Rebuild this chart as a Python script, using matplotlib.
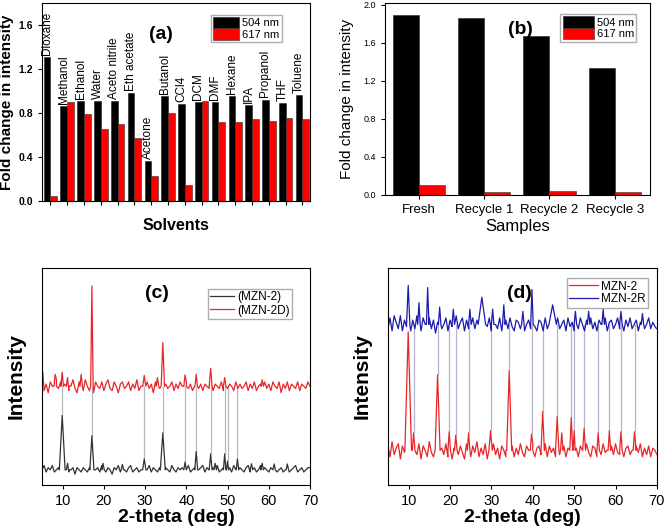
import numpy as np
import matplotlib
matplotlib.use('Agg')
import matplotlib.pyplot as plt

plt.rcParams['font.family'] = ['Liberation Sans', 'DejaVu Sans']

# ---- panel (a): solvents ----
solvents = ['Dioxane', 'Methanol', 'Ethanol', 'Water', 'Aceto nitrile', 'Eth acetate',
            'Acetone', 'Butanol', 'CCl4', 'DCM', 'DMF', 'Hexane', 'IPA', 'Propanol',
            'THF', 'Toluene']
solv_504 = [1.31, 0.86, 0.91, 0.91, 0.91, 0.98, 0.36, 0.95, 0.88, 0.90, 0.90, 0.95,
            0.87, 0.92, 0.89, 0.96]
solv_617 = [0.04, 0.90, 0.79, 0.65, 0.70, 0.57, 0.22, 0.80, 0.14, 0.91, 0.72, 0.72,
            0.74, 0.73, 0.75, 0.74]

# ---- panel (b): recycling ----
samples = ['Fresh', 'Recycle 1', 'Recycle 2', 'Recycle 3']
samp_504 = [1.89, 1.86, 1.67, 1.34]
samp_617 = [0.11, 0.03, 0.045, 0.03]

# ---- panels (c), (d): XRD traces (arb. units) ----
# baseline readings every 0.5 deg from 5 to 70
c_black_noise = [
    0, 2, -1, 1, 0, 2, -1, 0, 1, -1,
    1, 0, 2, -1, 0, 1, -2, 1, 0, -1,
    1, 0, -1, 1, 2, -1, 0, 1, -1, 2,
    0, -1, 1, 0, -2, 1, 0, 2, -1, 1,
    0, -1, 1, 2, -1, 0, 1, -1, 0, 1,
    -1, 0, 2, -1, 1, 0, -1, 1, 0, -2,
    1, 0, -1, 2, 0, -1, 1, 0, 1, -1,
    0, 2, -1, 0, 1, -1, 0, 1, 2, -1,
    1, 0, -1, 1, 0, 2, -1, 0, 1, -1,
    0, 1, -1, 2, 0, -1, 1, 0, -1, 1,
    2, -1, 0, 1, -1, 0, 2, -1, 1, 0,
    -1, 1, 0, 2, -1, 0, 1, -1, 0, 1,
    -1, 0, 1, 2, -1, 0, 1, -1, 0, 1,
    1]
c_red_noise = [
    3, -2, 1, -3, 2, 0, -2, 3, -1, 2,
    -3, 1, 2, -2, 0, 3, -1, -3, 2, 1,
    -2, 3, 0, -2, 1, -3, 2, 0, -1, 2,
    -2, 1, 3, -1, -2, 2, 0, -3, 1, 2,
    -1, 0, 2, -2, 1, -1, 3, -2, 0, 1,
    -2, 2, -1, 1, -3, 2, 0, -1, 2, -2,
    1, -1, 0, 2, -2, 1, -1, 2, 0, -2,
    2, -1, 1, -2, 0, 2, -1, 1, -2, 1,
    0, -1, 2, -2, 1, 0, -1, 2, -2, 1,
    -1, 1, 0, -2, 2, -1, 1, -1, 0, 2,
    -2, 1, -1, 2, -2, 0, 1, -2, 2, -1,
    1, -2, 2, 0, -1, 2, -3, 1, -1, 2,
    -2, 1, 0, -1, 2, -2, 1, 0, -1, 2,
    0]
d_red_noise = [
    2, -3, 4, -2, 1, 3, -4, 2, -1, 3,
    -2, 4, -3, 1, -2, 3, -4, 2, 0, -3,
    4, -1, -3, 2, -4, 3, 1, -2, 3, -3,
    2, -4, 1, 3, -2, 2, -1, -4, 3, 1,
    -3, 2, -1, 4, -3, 1, -2, 3, -4, 2,
    -1, 3, -2, 1, -4, 2, 0, -3, 3, -1,
    2, -3, 1, -2, 3, -1, -3, 2, 0, -2,
    3, -3, 1, 2, -2, -1, 3, -3, 2, -1,
    1, -3, 3, -2, 0, 2, -3, 1, -1, 3,
    -2, 1, -3, 2, 0, -2, 3, -1, -3, 2,
    1, -3, 2, -2, 3, -1, 0, -3, 2, -2,
    3, -1, -2, 2, -3, 1, 2, -2, 0, -3,
    2, -1, 3, -3, 1, -2, 2, -3, 1, 0,
    -2]
d_blue_noise = [
    -2, 3, -3, 4, 1, -2, 4, -3, 2, -1,
    3, -3, 2, -2, 4, -1, -3, 3, 0, -3,
    3, -2, 2, -4, 1, 3, -2, 0, 3, -3,
    2, -1, -3, 4, -2, 1, 3, -3, 2, -2,
    0, 3, -2, 2, -3, 1, 4, -2, -1, 3,
    -3, 2, 0, -2, 3, -3, 1, 2, -2, 3,
    -1, -3, 2, 1, -2, 3, -3, 0, 2, -2,
    3, -1, -3, 2, 1, -3, 3, -2, 2, -1,
    -3, 2, 3, -2, 0, 2, -3, 3, -1, 1,
    -3, 2, -2, 3, 0, -3, 2, -1, 3, -2,
    1, -3, 2, 0, -2, 3, -3, 1, 2, -2,
    0, 3, -2, 1, -3, 2, -1, 3, -2, 0,
    2, -3, 1, 2, -2, 0, 3, -2, 1, -1,
    -2]

c_black_base = 7
c_red_base = 45.5
d_red_base = 16
d_blue_base = 74

# peaks: (2-theta, top value, half width)
c_black_peaks = [(9.9, 32, 0.7), (11.2, 10, 0.3), (17.1, 22.7, 0.5), (19.8, 10, 0.3),
                 (24.5, 9.5, 0.3), (29.8, 12, 0.4), (34.3, 24, 0.6), (39.7, 10.6, 0.3),
                 (42.4, 15.4, 0.35), (45.9, 14.3, 0.35), (47.0, 10, 0.3), (49.3, 14.3, 0.3),
                 (50.0, 11, 0.25), (52.4, 12, 0.3), (55.8, 9.8, 0.3), (58.4, 10, 0.3),
                 (61.3, 9.7, 0.3), (64.5, 9.7, 0.3)]
c_red_peaks = [(5.2, 52, 0.25), (8.2, 51, 0.3), (9.9, 52, 0.3), (11.2, 49.5, 0.3),
               (14.5, 51, 0.3), (17.1, 91.7, 0.3), (29.8, 50.5, 0.35), (33.0, 49.5, 0.3),
               (34.3, 65.6, 0.4), (39.7, 50.7, 0.3), (42.4, 51, 0.3), (45.9, 53.8, 0.35),
               (49.3, 49.5, 0.3), (58.4, 48.5, 0.3)]
d_red_peaks = [(9.9, 70.6, 0.8), (11.2, 24, 0.3), (17.0, 50.7, 0.6), (19.8, 24.5, 0.3),
               (21.4, 23, 0.3), (24.5, 24, 0.3), (29.8, 25, 0.4), (33.8, 21, 0.3),
               (34.3, 52.7, 0.6), (39.7, 23.5, 0.3), (42.4, 33.8, 0.4), (45.9, 31.5, 0.4),
               (47.0, 24, 0.3), (49.3, 31, 0.35), (50.0, 25, 0.25), (52.4, 26, 0.35),
               (55.8, 24, 0.3), (58.5, 25, 0.3), (61.3, 24.5, 0.3), (64.6, 24.5, 0.35)]
d_blue_peaks = [(9.9, 92, 0.4), (12.5, 84, 0.3), (14.6, 91, 0.3), (17.5, 82, 0.3),
                (20.8, 81, 0.3), (24.8, 81, 0.3), (27.7, 86.5, 0.9), (30.3, 81, 0.3),
                (33.0, 83, 0.3), (37.6, 80, 0.3), (39.8, 90, 0.3), (44.8, 83, 0.9),
                (50.3, 80, 0.3), (53.5, 80, 0.3), (57.0, 81, 0.3), (61.3, 80, 0.3),
                (66.5, 79, 0.3)]

c_links = [9.9, 17.1, 29.8, 34.3, 39.7, 42.4, 45.9, 49.3, 50.0, 52.4]
d_links = [11.2, 17.0, 19.8, 21.4, 24.5, 29.8, 34.3, 39.7, 42.4, 45.9, 49.3, 50.0,
           52.4, 55.8, 58.5, 61.3, 64.6]

grid_x = np.arange(5, 70.01, 0.5)


def build_trace(noise, base, peaks):
    xs = list(grid_x)
    ys = [base + n for n in noise]
    pts = list(zip(xs, ys))
    for c, h, w in peaks:
        pts = [p for p in pts if not (c - w < p[0] < c + w)]
        pts += [(max(c - w, 5), base), (c, h), (min(c + w, 70), base)]
    pts.sort(key=lambda p: p[0])
    return [p[0] for p in pts], [p[1] for p in pts]


fig = plt.figure(figsize=(6.7, 5.32), dpi=100)

# ---------- (a) ----------
ax = fig.add_axes([0.0627, 0.623, 0.4, 0.371])
idx = np.arange(len(solvents))
ax.bar(idx - 0.2, solv_504, 0.4, color='black', edgecolor='#222222', linewidth=0.4, label='504 nm')
ax.bar(idx + 0.2, solv_617, 0.4, color='#ff0000', edgecolor='#333333', linewidth=0.4, label='617 nm')
for i, name in enumerate(solvents):
    ax.text(i - 0.2, solv_504[i] + 0.02, name, rotation=90, ha='center', va='bottom', fontsize=8.5)
ax.set_xlim(-0.5, 15.45)
ax.set_ylim(0, 1.8)
ax.set_xticks(idx)
ax.set_xticklabels([])
ax.set_yticks([0.0, 0.4, 0.8, 1.2, 1.6])
ax.set_yticklabels(['0.0', '0.4', '0.8', '1.2', '1.6'], fontsize=7.5, fontweight='bold')
ax.tick_params(direction='out', length=3, width=0.8)
ax.set_ylabel('Fold change in intensity', fontsize=11, fontweight='bold', labelpad=3)
ax.set_xlabel('Solvents', fontsize=11.5, fontweight='bold', labelpad=6)
ax.text(0.445, 0.82, '(a)', transform=ax.transAxes, fontsize=14, fontweight='bold', ha='center')
ax.legend(loc='upper right', bbox_to_anchor=(0.915, 0.97), fontsize=8, frameon=True,
          fancybox=False, edgecolor='#999999', handlelength=2.3, handleheight=1.2,
          borderpad=0.2, labelspacing=0.0, handletextpad=0.3)

# ---------- (b) ----------
ax = fig.add_axes([0.5746, 0.6335, 0.3955, 0.361])
idx = np.arange(len(samples))
ax.bar(idx - 0.2, samp_504, 0.4, color='black', edgecolor='#222222', linewidth=0.4, label='504 nm')
ax.bar(idx + 0.2, samp_617, 0.4, color='#ff0000', edgecolor='#333333', linewidth=0.4, label='617 nm')
ax.set_xlim(-0.52, 3.54)
ax.set_ylim(0, 2.02)
ax.set_xticks(idx)
ax.set_xticklabels(samples, fontsize=9.5)
ax.set_yticks([0.0, 0.4, 0.8, 1.2, 1.6, 2.0])
ax.set_yticklabels(['0.0', '0.4', '0.8', '1.2', '1.6', '2.0'], fontsize=6.5)
ax.tick_params(direction='out', length=3, width=0.8)
ax.set_ylabel('Fold change in intensity', fontsize=11, labelpad=7)
ax.set_xlabel('Samples', fontsize=12, labelpad=2)
ax.text(0.51, 0.84, '(b)', transform=ax.transAxes, fontsize=14, fontweight='bold', ha='center')
ax.legend(loc='upper right', bbox_to_anchor=(0.97, 0.97), fontsize=8, frameon=True,
          fancybox=False, edgecolor='#999999', handlelength=2.8, handleheight=1.2,
          borderpad=0.2, labelspacing=0.0, handletextpad=0.3)

# ---------- (c) ----------
ax = fig.add_axes([0.0627, 0.0883, 0.4, 0.408])
for xl in c_links:
    lo = max([h for c, h, w in c_black_peaks if abs(c - xl) < 0.05] + [c_black_base])
    ax.vlines(xl, lo, c_red_base, color='#b8b8b8', linewidth=0.9, zorder=1)
bx, by = build_trace(c_black_noise, c_black_base, c_black_peaks)
rx, ry = build_trace(c_red_noise, c_red_base, c_red_peaks)
ax.plot(bx, by, color='#333333', linewidth=0.9, label='(MZN-2)', zorder=2)
ax.plot(rx, ry, color='#e8262a', linewidth=0.9, label='(MZN-2D)', zorder=2)
ax.set_xlim(5, 70)
ax.set_ylim(0, 100)
ax.set_xticks([10, 20, 30, 40, 50, 60, 70])
ax.set_yticks([])
ax.tick_params(axis='x', direction='out', length=3, labelsize=10.5)
ax.set_ylabel('Intensity', fontsize=15, fontweight='bold', labelpad=12)
ax.set_xlabel('2-theta (deg)', fontsize=14, fontweight='bold', labelpad=1)
ax.text(0.43, 0.86, '(c)', transform=ax.transAxes, fontsize=14, fontweight='bold', ha='center')
ax.legend(loc='upper right', bbox_to_anchor=(0.955, 0.93), fontsize=8.5, frameon=True,
          fancybox=False, edgecolor='#999999', handlelength=2.0, borderpad=0.2,
          labelspacing=0.1, handletextpad=0.3)

# ---------- (d) ----------
ax = fig.add_axes([0.579, 0.0883, 0.4015, 0.408])
for xl in d_links:
    lo = max([h for c, h, w in d_red_peaks if abs(c - xl) < 0.05] + [d_red_base])
    ax.vlines(xl, lo, d_blue_base, color='#b4b4d2', linewidth=0.9, zorder=1)
rx, ry = build_trace(d_red_noise, d_red_base, d_red_peaks)
ux, uy = build_trace(d_blue_noise, d_blue_base, d_blue_peaks)
ax.plot(rx, ry, color='#e8262a', linewidth=0.9, label='MZN-2', zorder=2)
ax.plot(ux, uy, color='#1c1ca8', linewidth=0.9, label='MZN-2R', zorder=2)
ax.set_xlim(5, 70)
ax.set_ylim(0, 100)
ax.set_xticks([10, 20, 30, 40, 50, 60, 70])
ax.set_yticks([])
ax.tick_params(axis='x', direction='out', length=3, labelsize=10.5)
ax.set_ylabel('Intensity', fontsize=15, fontweight='bold', labelpad=12)
ax.set_xlabel('2-theta (deg)', fontsize=14, fontweight='bold', labelpad=1)
ax.text(0.49, 0.86, '(d)', transform=ax.transAxes, fontsize=14, fontweight='bold', ha='center')
ax.legend(loc='upper right', bbox_to_anchor=(0.99, 0.98), fontsize=8.5, frameon=True,
          fancybox=False, edgecolor='#999999', handlelength=2.4, borderpad=0.2,
          labelspacing=0.05, handletextpad=0.3)

fig.savefig('out.png', dpi=100)
